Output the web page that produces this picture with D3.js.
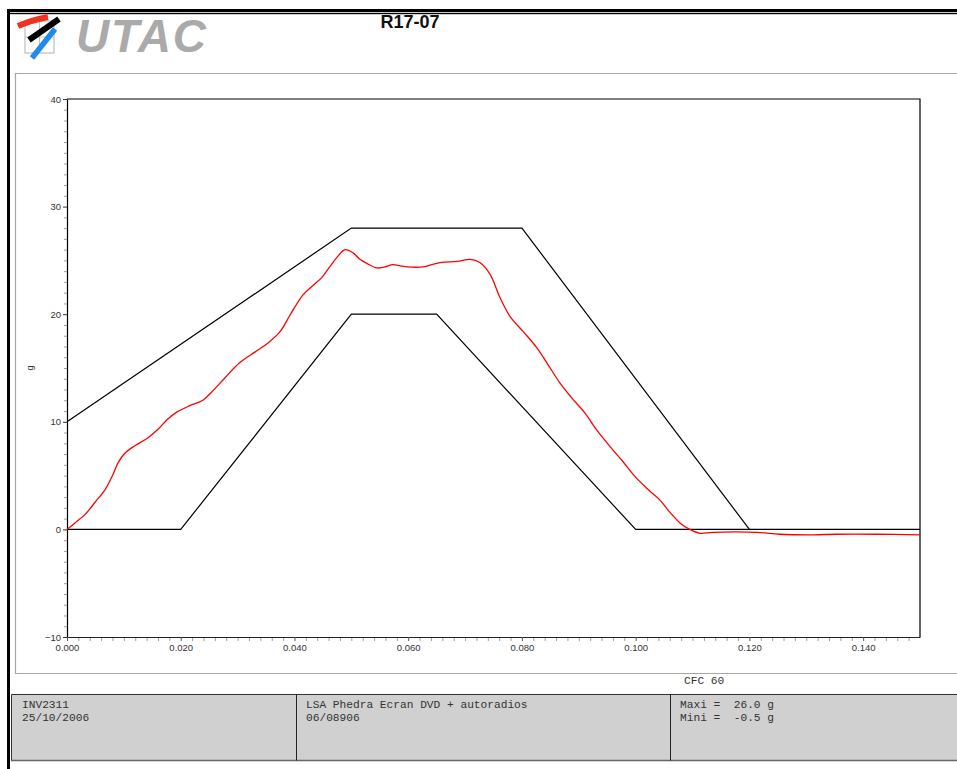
<!DOCTYPE html>
<html>
<head>
<meta charset="utf-8">
<script src="https://cdn.jsdelivr.net/npm/d3@7"></script>
<style>
  html, body { margin: 0; padding: 0; background: #fff; }
  svg { display: block; }
</style>
</head>
<body>
<svg id="chart" width="957" height="769"></svg>
<script>
// ---------- DATA ----------
const title = "R17-07";
const yLabel = "g";
const filterLabel = "CFC 60";
const yMajorTicks = [-10, 0, 10, 20, 30, 40];
const xMajorTicks = [0, 0.02, 0.04, 0.06, 0.08, 0.10, 0.12, 0.14];

// upper corridor limit
const upperT = [0, 0.05, 0.08, 0.12];
const upperG = [10, 28, 28, 0];
// lower corridor limit
const lowerT = [0, 0.02, 0.05, 0.065, 0.10, 0.15];
const lowerG = [0, 0, 20, 20, 0, 0];

// measured acceleration (red)
const measT = [0, 0.0014, 0.0032, 0.0049, 0.0067, 0.0079, 0.0090, 0.0102, 0.0120, 0.0142,
  0.0160, 0.0176, 0.0193, 0.0216, 0.0239, 0.0255, 0.0278, 0.0304, 0.0331, 0.0353,
  0.0375, 0.0392, 0.0415, 0.0433, 0.0448, 0.0462, 0.0475, 0.0489, 0.0503, 0.0515,
  0.0528, 0.0545, 0.0559, 0.0573, 0.0586, 0.0598, 0.0626, 0.0656, 0.0686, 0.0709,
  0.0726, 0.0744, 0.0761, 0.0779, 0.0802, 0.0826, 0.0846, 0.0867, 0.0888, 0.0911,
  0.0932, 0.0955, 0.0976, 0.0999, 0.1022, 0.1043, 0.1060, 0.1078, 0.1095, 0.1113,
  0.1136, 0.1213, 0.1254, 0.1312, 0.1354, 0.1424, 0.1500];
const measG = [0, 0.6, 1.4, 2.5, 3.7, 4.9, 6.2, 7.1, 7.8, 8.5,
  9.3, 10.2, 10.9, 11.5, 12.0, 12.8, 14.1, 15.5, 16.5, 17.3,
  18.4, 19.9, 21.8, 22.7, 23.4, 24.4, 25.3, 26.0, 25.7, 25.1,
  24.7, 24.3, 24.4, 24.6, 24.5, 24.4, 24.4, 24.8, 24.9, 25.1,
  24.8, 23.7, 21.6, 19.8, 18.4, 16.9, 15.3, 13.6, 12.2, 10.8,
  9.2, 7.7, 6.4, 4.9, 3.7, 2.7, 1.6, 0.6, 0.0, -0.36,
  -0.27, -0.27, -0.45, -0.5, -0.45, -0.45, -0.5];

const footerLeft = ["INV2311", "25/10/2006"];
const footerMid = ["LSA Phedra Ecran DVD + autoradios", "06/08906"];
const footerRight = ["Maxi =  26.0 g", "Mini =  -0.5 g"];

// ---------- DRAW ----------
const svg = d3.select("#chart");
const sans = "'Liberation Sans', Arial, sans-serif";
const mono = "'Liberation Mono', 'Courier New', monospace";

// outer frame lines
svg.append("rect").attr("x", 7).attr("y", 9).attr("width", 950).attr("height", 3).attr("fill", "#000");
svg.append("rect").attr("x", 7).attr("y", 12.8).attr("width", 950).attr("height", 1.4).attr("fill", "#000");
svg.append("rect").attr("x", 7).attr("y", 9).attr("width", 3).attr("height", 760).attr("fill", "#000");

// inner grey frame
svg.append("path").attr("d", "M960,73.5 H15.5 V673.5 H960")
  .attr("fill", "none").attr("stroke", "#a8a8a0").attr("stroke-width", 1.2);

// logo
const logo = svg.append("g");
logo.append("rect").attr("x", 25).attr("y", 21).attr("width", 29).attr("height", 32)
  .attr("fill", "none").attr("stroke", "#b0b0b0").attr("stroke-width", 1);
logo.append("line").attr("x1", 39.5).attr("x2", 39.5).attr("y1", 21).attr("y2", 53).attr("stroke", "#c0c0c0");
logo.append("line").attr("x1", 25).attr("x2", 54).attr("y1", 37).attr("y2", 37).attr("stroke", "#c0c0c0");
logo.append("path").attr("d", "M18,26 Q32,20 48,17").attr("fill", "none").attr("stroke", "#ee3322").attr("stroke-width", 6).attr("stroke-linecap", "butt");
logo.append("path").attr("d", "M29,40 L59,19").attr("fill", "none").attr("stroke", "#000").attr("stroke-width", 6);
logo.append("path").attr("d", "M32,58 L55,29").attr("fill", "none").attr("stroke", "#2288ee").attr("stroke-width", 5.5);
logo.append("text").attr("x", 76).attr("y", 52)
  .attr("font-family", sans).attr("font-weight", "bold").attr("font-style", "italic")
  .attr("font-size", 46).attr("fill", "#aaaaaa").attr("textLength", 130)
  .text("UTAC");

// title
svg.append("text").attr("x", 410).attr("y", 28).attr("text-anchor", "middle")
  .attr("font-family", sans).attr("font-weight", "bold").attr("font-size", 18)
  .attr("fill", "#111").text(title);

// scales
const x = d3.scaleLinear().domain([0, 0.15]).range([67, 920]);
const y = d3.scaleLinear().domain([-10, 40]).range([637, 99]);

// minor ticks
const yMinor = d3.range(-10, 41, 1).filter(v => !yMajorTicks.includes(v));
const xMinor = d3.range(0, 75, 1).map(i => i * 0.002).filter(v => !xMajorTicks.some(m => Math.abs(m - v) < 1e-9));

const gyMinor = svg.append("g").attr("transform", "translate(67,0)")
  .call(d3.axisLeft(y).tickValues(yMinor).tickSize(3).tickFormat(""));
gyMinor.select(".domain").remove();
gyMinor.selectAll(".tick line").attr("stroke", "#a0a0a0");

const gxMinor = svg.append("g").attr("transform", "translate(0,637)")
  .call(d3.axisBottom(x).tickValues(xMinor).tickSize(4).tickFormat(""));
gxMinor.select(".domain").remove();
gxMinor.selectAll(".tick line").attr("stroke", "#a0a0a0");

const gy = svg.append("g").attr("transform", "translate(67,0)")
  .call(d3.axisLeft(y).tickValues(yMajorTicks).tickSize(4).tickSizeOuter(0).tickPadding(2).tickFormat(d3.format("d")));
gy.select(".domain").attr("stroke", "#000").attr("stroke-width", 1.2);
gy.selectAll(".tick line").attr("stroke", "#333");
gy.selectAll(".tick text").attr("font-family", sans).attr("font-size", 9.5).attr("fill", "#333");

const gx = svg.append("g").attr("transform", "translate(0,637)")
  .call(d3.axisBottom(x).tickValues(xMajorTicks).tickSize(4).tickSizeOuter(0).tickPadding(3).tickFormat(d3.format(".3f")));
gx.select(".domain").attr("stroke", "#222").attr("stroke-width", 1.2);
gx.selectAll(".tick line").attr("stroke", "#555");
gx.selectAll(".tick text").attr("font-family", sans).attr("font-size", 9.5).attr("fill", "#333");

// plot frame top & right
svg.append("path").attr("d", `M${x(0)},${y(40)} H${x(0.15)} V${y(-10)}`)
  .attr("fill", "none").attr("stroke", "#000").attr("stroke-width", 1.2);

// y label
svg.append("text").attr("transform", `translate(33,${y(15)}) rotate(-90)`)
  .attr("text-anchor", "middle").attr("font-family", sans).attr("font-size", 9).attr("fill", "#333")
  .text(yLabel);

// corridor lines
const line = d3.line().x(d => x(d[0])).y(d => y(d[1]));
svg.append("path").datum(upperT.map((t, i) => [t, upperG[i]]))
  .attr("d", line).attr("fill", "none").attr("stroke", "#000").attr("stroke-width", 1.2);
svg.append("path").datum(lowerT.map((t, i) => [t, lowerG[i]]))
  .attr("d", line).attr("fill", "none").attr("stroke", "#000").attr("stroke-width", 1.2);

// measured curve
const smooth = d3.line().x(d => x(d[0])).y(d => y(d[1])).curve(d3.curveCatmullRom.alpha(0.5));
svg.append("path").datum(measT.map((t, i) => [t, measG[i]]))
  .attr("d", smooth).attr("fill", "none").attr("stroke", "#ff0000").attr("stroke-width", 1.3);

// filter label
svg.append("text").attr("x", 684).attr("y", 684)
  .attr("font-family", mono).attr("font-size", 11.2).attr("fill", "#333").text(filterLabel);

// footer boxes
const boxTop = 694.5, boxBot = 760.5;
svg.append("rect").attr("x", 11).attr("y", boxTop).attr("width", 950).attr("height", boxBot - boxTop)
  .attr("fill", "#d0d0d0");
svg.append("path").attr("d", `M11.5,${boxBot} V${boxTop} H960`).attr("fill", "none").attr("stroke", "#333").attr("stroke-width", 1);
svg.append("path").attr("d", `M11,${boxBot} H960`).attr("fill", "none").attr("stroke", "#666").attr("stroke-width", 1.5);
[296.5, 670.5].forEach(px => {
  svg.append("line").attr("x1", px).attr("x2", px).attr("y1", boxTop).attr("y2", boxBot)
    .attr("stroke", "#222").attr("stroke-width", 1);
});

function footer(lines, x0) {
  lines.forEach((s, i) => {
    svg.append("text").attr("x", x0).attr("y", 708 + i * 12.5)
      .attr("font-family", mono).attr("font-size", 11.2).attr("fill", "#333")
      .attr("xml:space", "preserve").style("white-space", "pre").text(s);
  });
}
footer(footerLeft, 22);
footer(footerMid, 306);
footer(footerRight, 680);
</script>
</body>
</html>
